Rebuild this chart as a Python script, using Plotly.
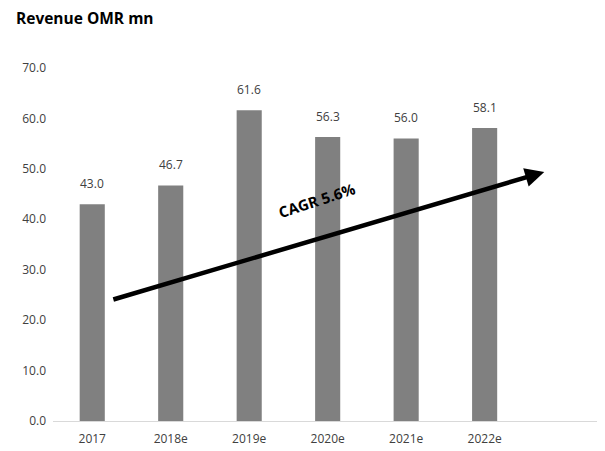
import plotly.graph_objects as go

categories = ["2017", "2018e", "2019e", "2020e", "2021e", "2022e"]
revenue = [43.0, 46.7, 61.6, 56.3, 56.0, 58.1]
y_ticks = [0, 10, 20, 30, 40, 50, 60, 70]
cagr_label = "CAGR 5.6%"

fig = go.Figure()
fig.add_trace(go.Bar(
    x=list(range(len(categories))), y=revenue,
    marker=dict(color="#808080", line=dict(width=0)),
    width=0.32,
))

for i, v in enumerate(revenue):
    fig.add_annotation(
        x=i, y=v, xref="x", yref="y", text=f"{v:.1f}", showarrow=False,
        yanchor="middle", yshift=21,
        font=dict(family="Open Sans, sans-serif", size=12, color="#404040"),
    )

fig.add_annotation(
    x=5.76, y=49.4, ax=0.25, ay=24.0,
    xref="x", yref="y", axref="x", ayref="y",
    showarrow=True, arrowhead=2, arrowsize=0.85, arrowwidth=4.5, arrowcolor="black",
    text="",
)
fig.add_annotation(
    x=2.87, y=43.8, xref="x", yref="y",
    text="<b>" + cagr_label + "</b>", showarrow=False, textangle=-18,
    font=dict(family="Open Sans, sans-serif", size=15, color="black"),
)

fig.add_annotation(
    x=0, y=1, xref="paper", yref="paper", xanchor="left", yanchor="middle",
    text="<b>Revenue OMR mn</b>", showarrow=False,
    xshift=-39, yshift=50,
    font=dict(family="Open Sans, sans-serif", size=15.5, color="black"),
)

fig.update_layout(
    width=597, height=443,
    margin=dict(l=45, r=5, t=60, b=30),
    plot_bgcolor="white", paper_bgcolor="white",
    showlegend=False,
    xaxis=dict(
        tickmode="array", tickvals=list(range(len(categories))), ticktext=categories,
        range=[-0.5, 6.47], showgrid=False, zeroline=False,
        showline=True, linecolor="#d9d9d9", linewidth=1, ticks="",
        ticklabelstandoff=7,
        tickfont=dict(family="Open Sans, sans-serif", size=12, color="#404040"),
    ),
    yaxis=dict(
        range=[0, 70], tickvals=y_ticks, ticktext=[f"{v:.1f}" for v in y_ticks],
        showgrid=False, zeroline=False, showline=False, ticks="",
        ticklabelstandoff=6,
        tickfont=dict(family="Open Sans, sans-serif", size=12, color="#404040"),
    ),
)

fig.write_html("out.html")
